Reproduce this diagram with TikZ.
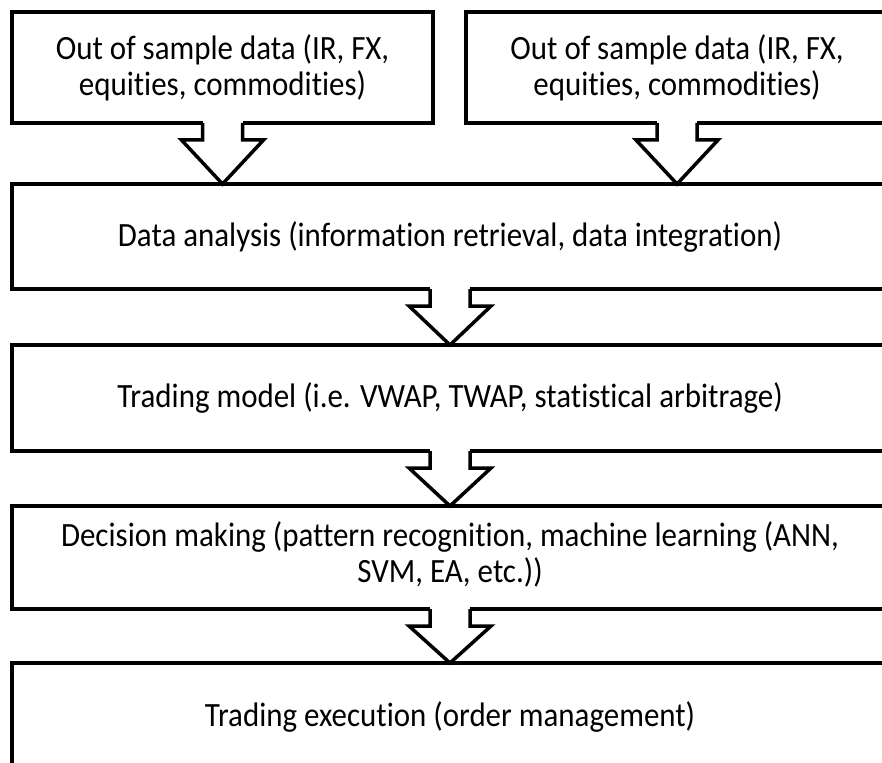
\documentclass[tikz,border=0pt]{standalone}
\usepackage{fontspec}
\setmainfont{Carlito}[FakeStretch=0.91, Ligatures=NoCommon]
\usepackage{tikz}
\usetikzlibrary{calc}

\tikzset{
	box/.style={draw=black, line width=3.5pt, fill=white, align=center, inner sep=0pt, outer sep=0pt},
	flow/.style={draw=black, line width=3.5pt, line join=miter, fill=white}
}
% block arrow from the bottom of #1 to the top of #2
\newcommand{\blockarrow}[2]{%
	\fill[white] ([xshift=-20pt,yshift=3pt]#1.south) rectangle ([xshift=20pt,yshift=-3pt]#1.south);
	\draw[flow] ([xshift=-20pt]#1.south) -- ([xshift=-20pt,yshift=-17pt]#1.south)
		-- ([xshift=-41pt,yshift=-17pt]#1.south) -- (#1.south |- #2.north)
		-- ([xshift=41pt,yshift=-17pt]#1.south) -- ([xshift=20pt,yshift=-17pt]#1.south)
		-- ([xshift=20pt]#1.south);
}

\begin{document}
\begin{tikzpicture}[x=1pt, y=-1pt, font=\fontsize{34}{36}\selectfont]
	\useasboundingbox (0,0) rectangle (882,762);
	\clip (0,0) rectangle (882,762);
	\fill[white] (0,0) rectangle (882,762);

	\node[box, minimum width=421pt, minimum height=111pt] (src1) at (222.5,67.5) {Out of sample data (IR, FX,\\equities, commodities)};
	\node[box, minimum width=422pt, minimum height=111pt] (src2) at (677,67.5) {Out of sample data (IR, FX,\\equities, commodities)};
	\node[box, minimum width=876pt, minimum height=105pt] (analysis) at (450,236.5) {Data analysis (information retrieval, data integration)};
	\node[box, minimum width=876pt, minimum height=106pt] (model) at (450,398) {Trading model (i.e. VWAP, TWAP, statistical arbitrage)};
	\node[box, minimum width=876pt, minimum height=103pt] (decision) at (450,557.5) {\raisebox{8pt}{\begin{tabular}{@{}c@{}}Decision making (pattern recognition, machine learning (ANN,\\SVM, EA, etc.))\end{tabular}}};
	\node[box, minimum width=876pt, minimum height=108pt] (execution) at (450,717) {Trading execution (order management)};

	\blockarrow{src1}{analysis}
	\blockarrow{src2}{analysis}
	\blockarrow{analysis}{model}
	\blockarrow{model}{decision}
	\blockarrow{decision}{execution}
\end{tikzpicture}
\end{document}
